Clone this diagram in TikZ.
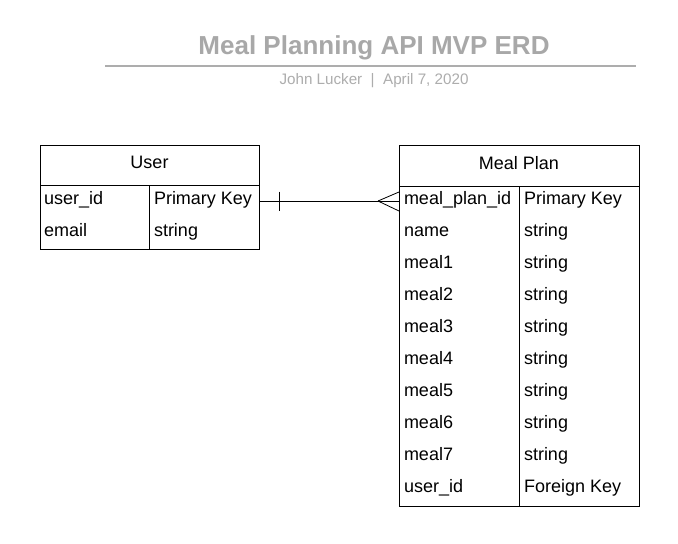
\documentclass[tikz,border=0pt]{standalone}
\usepackage{fontspec}
\setmainfont{Liberation Sans}
\usetikzlibrary{calc}
\definecolor{titlegray}{HTML}{A8A8A8}
\definecolor{subgray}{HTML}{ADADAD}
\begin{document}
\begin{tikzpicture}[x=1pt,y=-1pt,
  every node/.style={inner sep=0pt, outer sep=0pt},
  tbl/.style={draw=black, line width=0.9pt, rectangle, anchor=north west},
  sep/.style={line width=0.9pt},
  cell/.style={anchor=base west, font=\fontsize{18}{20}\selectfont},
  head/.style={anchor=base, font=\fontsize{18}{20}\selectfont},
  rel/.style={line width=0.8pt}]
\useasboundingbox[fill=white] (0,0) rectangle (678,544);
% title block
\node[anchor=base, text=titlegray, font=\bfseries\fontsize{26}{30}\selectfont] (title) at (374,54) {Meal Planning API MVP ERD};
\coordinate (rl) at (105,66);
\coordinate (rr) at (636,66);
\draw[subgray, line width=1.5pt] (rl) -- (rr);
\node[anchor=base, text=subgray, font=\fontsize{15.2}{18}\selectfont] (sub) at (374,84) {John Lucker \ |\ \ April 7, 2020};
% User table
\node[tbl, minimum width=219pt, minimum height=104pt] (user) at (40,145) {};
\draw[sep] (40,185) -- (259,185);
\draw[sep] (149,185) -- (149,249);
\node[head] (userhead) at (149.5,168) {User};
\node[cell] (u1a) at (44,204.5) {user\_id};
\node[cell] (u1b) at (154,204.5) {Primary Key};
\node[cell] (u2a) at (44,236.5) {email};
\node[cell] (u2b) at (154,236.5) {string};
% Meal Plan table
\node[tbl, minimum width=240pt, minimum height=361pt] (plan) at (399,145) {};
\draw[sep] (399,186) -- (639,186);
\draw[sep] (519,186) -- (519,506);
\node[head] (planhead) at (519,169) {Meal Plan};
\foreach \i/\a/\b in {0/meal\_plan\_id/Primary Key,1/name/string,2/meal1/string,3/meal2/string,4/meal3/string,5/meal4/string,6/meal5/string,7/meal6/string,8/meal7/string,9/user\_id/Foreign Key}{
  \node[cell] (p\i a) at (404,204.5+32*\i) {\a};
  \node[cell] (p\i b) at (524,204.5+32*\i) {\b};
}
% relationship: one (User) to many (Meal Plan)
\coordinate (ua) at (user.east |- 0,201);
\coordinate (pa) at (plan.west |- 0,201);
\draw[rel] (ua) -- (pa);
\draw[rel] ($(ua)+(20,-9.5)$) -- ($(ua)+(20,10)$);
\draw[rel] ($(pa)+(-21,0)$) -- ($(pa)+(0,-9)$);
\draw[rel] ($(pa)+(-21,0)$) -- ($(pa)+(0,10)$);
\end{tikzpicture}
\end{document}
